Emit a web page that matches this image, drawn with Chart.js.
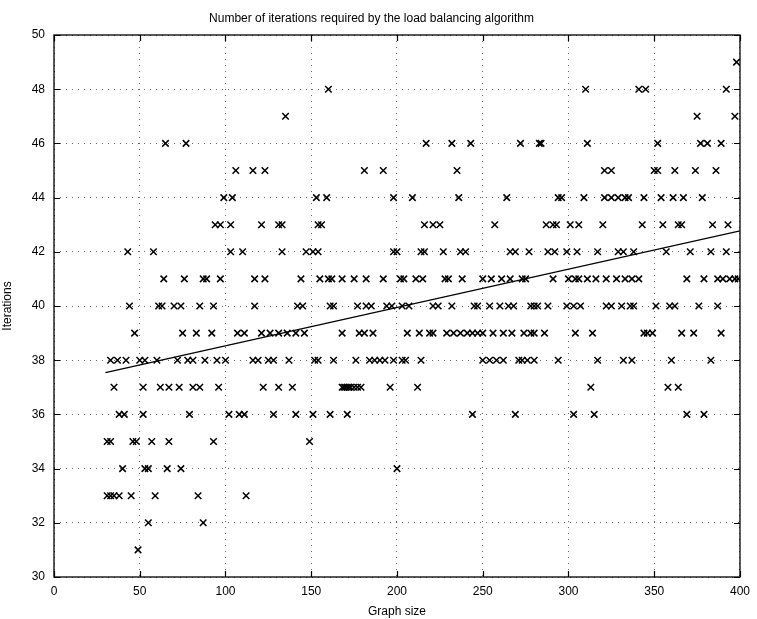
<!DOCTYPE html>
<html>
<head>
<meta charset="utf-8">
<script src="https://cdn.jsdelivr.net/npm/chart.js@4/dist/chart.umd.min.js"></script>
<style>
  html, body { margin: 0; padding: 0; background: #fff; }
  #wrap { width: 757px; height: 619px; }
</style>
</head>
<body>
<div id="wrap"><canvas id="c" width="757" height="619"></canvas></div>
<script>
// Iteration counts observed, with the graph sizes that needed each count.
const iterationLevels = [31, 32, 33, 34, 35, 36, 37, 38, 39, 40, 41, 42, 43, 44, 45, 46, 47, 48, 49];
const sizesAt31 = [49];
const sizesAt32 = [55, 87];
const sizesAt33 = [31, 33, 35, 38, 45, 59, 84, 112];
const sizesAt34 = [40, 53, 55, 66, 74, 200];
const sizesAt35 = [31, 33, 46, 48, 57, 67, 93, 149];
const sizesAt36 = [38, 41, 52, 79, 102, 108, 111, 128, 141, 151, 161, 171, 244, 269, 303, 315, 369, 379];
const sizesAt37 = [35, 52, 62, 67, 73, 81, 85, 96, 122, 131, 139, 168, 169, 170, 171, 172, 173, 175, 177, 179, 196, 212, 313, 358, 364];
const sizesAt38 = [33, 37, 42, 50, 53, 60, 72, 78, 81, 88, 95, 100, 116, 119, 125, 128, 137, 152, 154, 163, 176, 184, 187, 190, 193, 198, 203, 205, 214, 250, 254, 258, 262, 271, 273, 276, 280, 294, 317, 332, 337, 360, 383];
const sizesAt39 = [47, 75, 83, 92, 107, 111, 121, 126, 131, 136, 141, 146, 168, 178, 181, 186, 206, 213, 219, 221, 229, 233, 237, 241, 244, 247, 250, 256, 262, 267, 274, 278, 280, 286, 304, 314, 344, 346, 349, 366, 373, 389];
const sizesAt40 = [44, 61, 63, 70, 74, 85, 93, 117, 142, 145, 161, 163, 177, 182, 185, 194, 197, 203, 207, 221, 224, 232, 245, 247, 254, 260, 265, 268, 278, 280, 282, 288, 299, 303, 307, 322, 325, 331, 336, 338, 351, 359, 362, 376, 387];
const sizesAt41 = [64, 76, 87, 89, 97, 117, 123, 144, 155, 160, 162, 168, 175, 182, 192, 202, 204, 211, 215, 228, 230, 238, 250, 255, 261, 266, 273, 275, 291, 300, 304, 306, 311, 316, 322, 328, 333, 337, 341, 369, 379, 387, 390, 394, 397, 399];
const sizesAt42 = [43, 58, 103, 110, 133, 147, 151, 154, 198, 200, 214, 216, 227, 237, 240, 266, 269, 277, 288, 292, 299, 305, 317, 329, 332, 338, 357, 371, 383, 392];
const sizesAt43 = [94, 97, 103, 121, 131, 133, 154, 156, 216, 221, 225, 257, 287, 291, 293, 301, 306, 320, 343, 355, 364, 366, 384, 393];
const sizesAt44 = [99, 104, 153, 159, 198, 209, 236, 264, 294, 296, 309, 321, 325, 329, 333, 335, 344, 354, 361, 367, 378];
const sizesAt45 = [106, 116, 123, 181, 192, 235, 321, 325, 350, 352, 362, 374, 386];
const sizesAt46 = [65, 77, 217, 232, 243, 272, 283, 284, 311, 352, 377, 381, 389];
const sizesAt47 = [135, 375, 397];
const sizesAt48 = [160, 310, 341, 345, 392];
const sizesAt49 = [398];
const sizesPerLevel = [sizesAt31, sizesAt32, sizesAt33, sizesAt34, sizesAt35, sizesAt36, sizesAt37,
  sizesAt38, sizesAt39, sizesAt40, sizesAt41, sizesAt42, sizesAt43, sizesAt44, sizesAt45,
  sizesAt46, sizesAt47, sizesAt48, sizesAt49];

// Least-squares trend line end points (graph size, iterations).
const trendSizes = [30, 400];
const trendIterations = [37.54, 42.77];

// Axis ticks.
const xTicks = [0, 50, 100, 150, 200, 250, 300, 350, 400];
const yTicks = [30, 32, 34, 36, 38, 40, 42, 44, 46, 48, 50];

const runs = [];
iterationLevels.forEach((lvl, i) => sizesPerLevel[i].forEach(s => runs.push({ x: s, y: lvl })));
const trend = trendSizes.map((s, i) => ({ x: s, y: trendIterations[i] }));

const FONT = "'Liberation Sans', Arial, Helvetica, sans-serif";

// Box around the plot with inward-pointing tick marks on all four sides.
const boxTicks = {
  id: 'boxTicks',
  afterDatasetsDraw(chart) {
    const { ctx, chartArea: a, scales: { x, y } } = chart;
    ctx.save();
    ctx.strokeStyle = '#000';
    ctx.lineWidth = 1.3;
    ctx.strokeRect(a.left, a.top, a.right - a.left, a.bottom - a.top);
    ctx.lineWidth = 1.2;
    ctx.beginPath();
    const len = 6;
    xTicks.forEach(v => {
      const px = Math.round(x.getPixelForValue(v)) + 0.5;
      ctx.moveTo(px, a.bottom); ctx.lineTo(px, a.bottom - len);
      ctx.moveTo(px, a.top); ctx.lineTo(px, a.top + len);
    });
    yTicks.forEach(v => {
      const py = Math.round(y.getPixelForValue(v)) + 0.5;
      ctx.moveTo(a.left, py); ctx.lineTo(a.left + len, py);
      ctx.moveTo(a.right, py); ctx.lineTo(a.right - len, py);
    });
    ctx.stroke();
    ctx.restore();
  }
};

new Chart(document.getElementById('c'), {
  type: 'scatter',
  data: {
    datasets: [
      {
        label: 'runs',
        data: runs,
        pointStyle: 'crossRot',
        pointRadius: 4.6,
        pointHoverRadius: 4.6,
        borderColor: '#000',
        backgroundColor: '#000',
        pointBorderWidth: 1.5
      },
      {
        label: 'trend',
        type: 'line',
        data: trend,
        borderColor: '#000',
        borderWidth: 1.3,
        pointRadius: 0,
        fill: false,
        tension: 0
      }
    ]
  },
  plugins: [boxTicks],
  options: {
    responsive: false,
    animation: false,
    events: [],
    layout: { padding: { left: 0, right: 14, top: 0, bottom: 0 } },
    plugins: {
      legend: { display: false },
      tooltip: { enabled: false },
      title: {
        display: true,
        text: 'Number of iterations required by the load balancing algorithm',
        color: '#000',
        font: { family: FONT, size: 12, weight: 'normal' },
        padding: { top: 11, bottom: 9.6 }
      }
    },
    scales: {
      x: {
        type: 'linear',
        min: 0, max: 400,
        afterBuildTicks(scale) { scale.ticks = xTicks.map(v => ({ value: v })); },
        afterFit(scale) { scale.height = 42; },
        ticks: {
          color: '#000',
          font: { family: FONT, size: 12 },
          padding: 7,
          maxRotation: 0
        },
        grid: { color: '#666', lineWidth: 1, drawTicks: false },
        border: { display: false, dash: [1, 5] },
        title: {
          display: true,
          text: 'Graph size',
          color: '#000',
          font: { family: FONT, size: 12 },
          padding: { top: 0, bottom: 0 }
        }
      },
      y: {
        type: 'linear',
        min: 30, max: 50,
        afterBuildTicks(scale) { scale.ticks = yTicks.map(v => ({ value: v })); },
        afterFit(scale) { scale.width = 54; },
        ticks: {
          color: '#000',
          font: { family: FONT, size: 12 },
          padding: 9
        },
        grid: { color: '#666', lineWidth: 1, drawTicks: false },
        border: { display: false, dash: [1, 5] },
        title: {
          display: true,
          text: 'Iterations',
          color: '#000',
          font: { family: FONT, size: 12 },
          padding: { top: 0, bottom: 0 }
        }
      }
    }
  }
});
</script>
</body>
</html>
